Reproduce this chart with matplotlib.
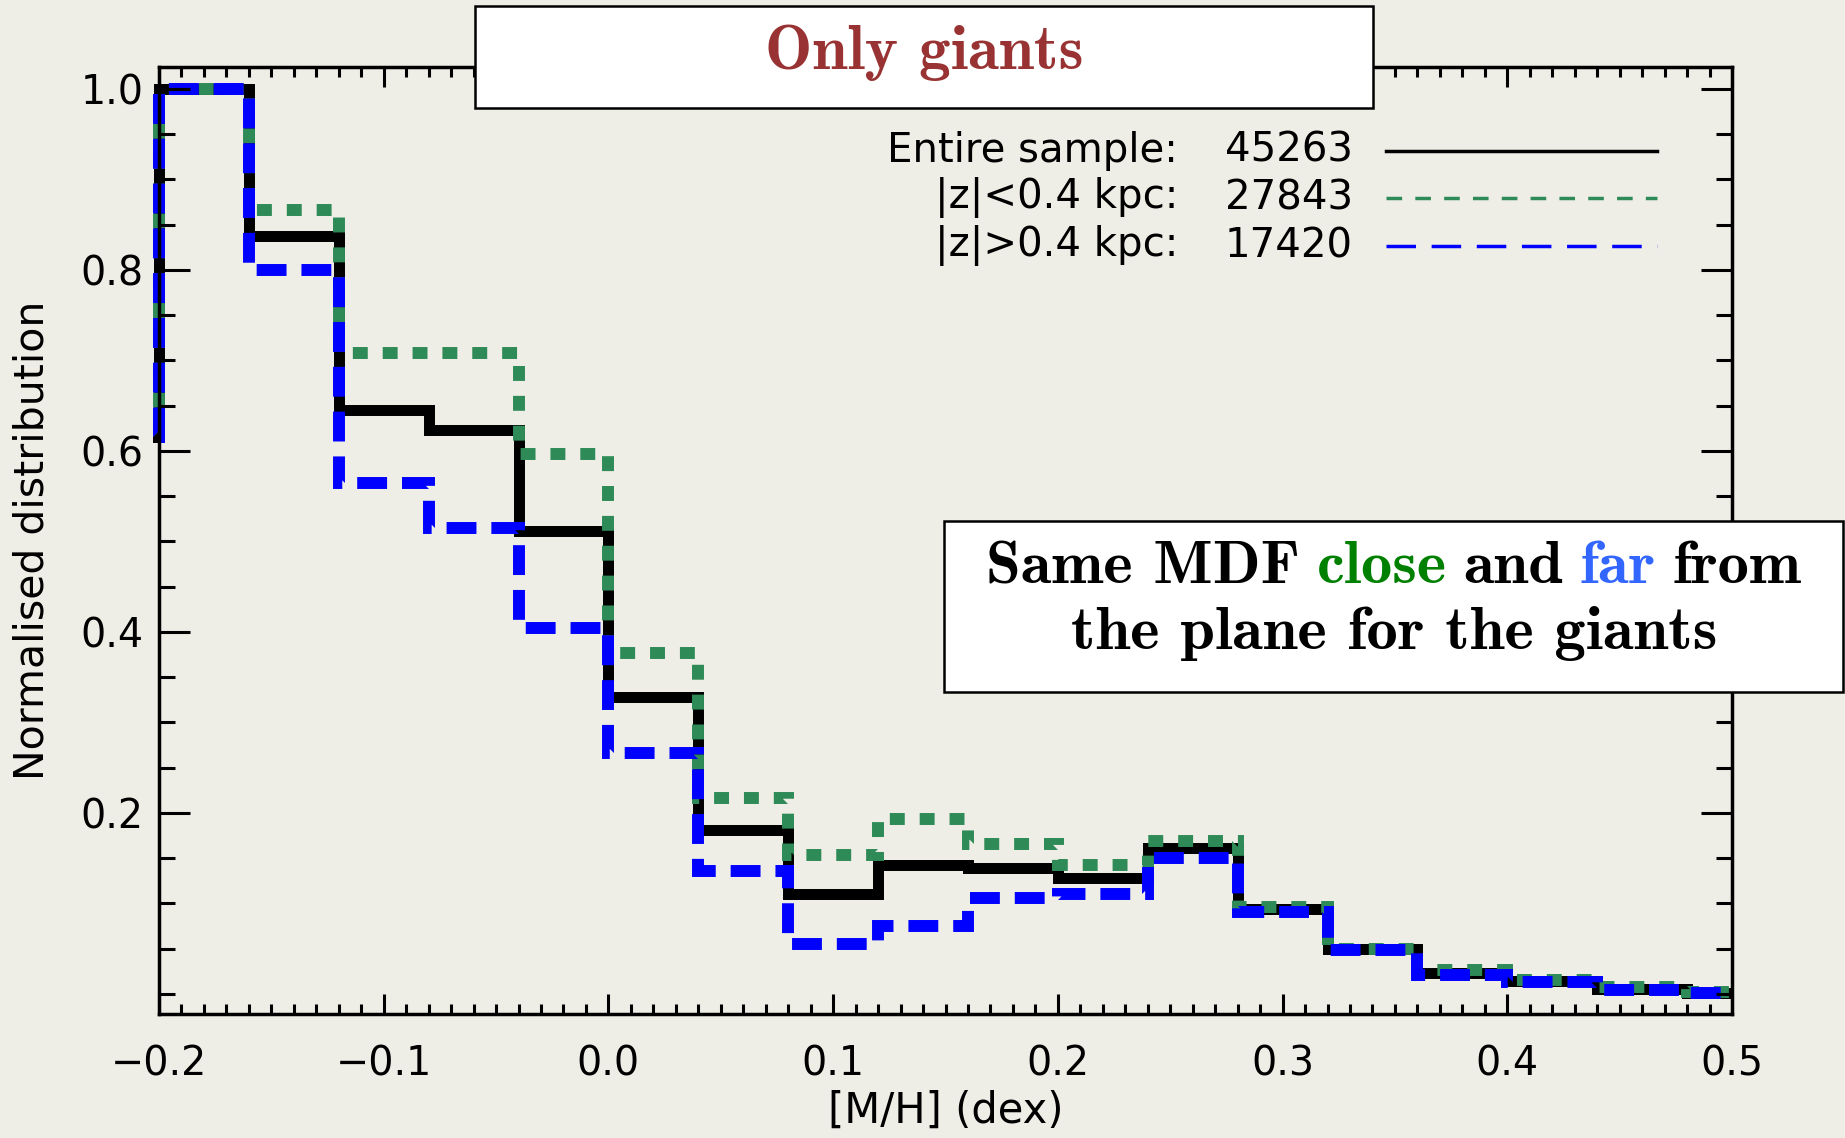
import numpy as np
import matplotlib
matplotlib.use("Agg")
import matplotlib.pyplot as plt
from matplotlib.lines import Line2D
from matplotlib.patches import Rectangle
from matplotlib.ticker import FixedLocator, MultipleLocator
from matplotlib.offsetbox import TextArea, HPacker, AnnotationBbox

# bin edges in [M/H] (first and last bins are partly outside the plot range)
edges = [-0.24, -0.20, -0.16, -0.12, -0.08, -0.04, 0.00, 0.04, 0.08, 0.12,
         0.16, 0.20, 0.24, 0.28, 0.32, 0.36, 0.40, 0.44, 0.48, 0.52]

# normalised histograms
entire = [0.615, 1.000, 0.838, 0.645, 0.623, 0.512, 0.328, 0.181, 0.110, 0.142,
          0.139, 0.128, 0.161, 0.094, 0.050, 0.023, 0.014, 0.0055, 0.0015]
near = [0.615, 1.000, 0.866, 0.708, 0.708, 0.597, 0.377, 0.217, 0.154, 0.193,
        0.166, 0.142, 0.169, 0.096, 0.050, 0.026, 0.016, 0.0077, 0.002]
far = [0.615, 1.000, 0.800, 0.565, 0.515, 0.404, 0.266, 0.136, 0.055, 0.075,
       0.106, 0.111, 0.150, 0.091, 0.049, 0.021, 0.0136, 0.0044, 0.001]

labels = ["Entire sample:", "|z|<0.4 kpc:", "|z|>0.4 kpc:"]
counts = ["45263", "27843", "17420"]

bg = "#efeee6"
green = "#2e8b57"
blue = "#0000ff"

W, H = 1845, 1138
fig = plt.figure(figsize=(W / 100, H / 100), dpi=100, facecolor=bg)


def fx(px):
    return px / W


def fy(py):
    # py measured from the top of the image
    return 1 - py / H


ax = fig.add_axes([fx(159), fy(1014), fx(1732) - fx(159), fy(67) - fy(1014)])
ax.set_facecolor(bg)

# let the thick steps overlap the left spine like IDL does
clip = Rectangle((-0.004, -0.05), 1.004, 1.1, transform=ax.transAxes)

h1 = ax.stairs(entire, edges, baseline=None, color="black", linewidth=7.9)
h2 = ax.stairs(near, edges, baseline=None, color=green, linewidth=8.6,
               linestyle=(0, (1.25, 1.25)))
h3 = ax.stairs(far, edges, baseline=None, color=blue, linewidth=8.6,
               linestyle=(0, (2.5, 1.25)))
for h in (h1, h2, h3):
    h.set_clip_path(clip)

ax.set_xlim(-0.2, 0.5)
ax.set_ylim(-0.0221, 1.0243)

ax.xaxis.set_major_locator(MultipleLocator(0.1))
ax.xaxis.set_minor_locator(MultipleLocator(0.01))
ax.yaxis.set_major_locator(FixedLocator([0.2, 0.4, 0.6, 0.8, 1.0]))
ax.yaxis.set_minor_locator(MultipleLocator(0.05))

ax.tick_params(axis="both", which="both", direction="in", top=True, right=True,
               width=2.2, labelsize=28.5)
ax.tick_params(axis="x", which="major", length=14.4, pad=22)
ax.tick_params(axis="x", which="minor", length=7.2)
ax.tick_params(axis="y", which="major", length=22, pad=11)
ax.tick_params(axis="y", which="minor", length=11.5)
for s in ax.spines.values():
    s.set_linewidth(2.5)

ax.set_xlabel("[M/H] (dex)", fontsize=30, va="top")
ax.xaxis.set_label_coords(0.5, -0.08)
ax.set_ylabel("Normalised distribution", fontsize=29.5)
ax.yaxis.set_label_coords(-0.0675, 0.5)

# legend drawn by hand, IDL style
rows = [151, 198, 246]
styles = [dict(color="black", linestyle="-"),
          dict(color=green, linestyle=(0, (4.5, 3.8))),
          dict(color=blue, linestyle=(0, (8.5, 4.5)))]
for lab, cnt, yy, st in zip(labels, counts, rows, styles):
    fig.text(fx(1178), fy(yy), lab, fontsize=29, ha="right", va="center")
    fig.text(fx(1353), fy(yy), cnt, fontsize=29, ha="right", va="center")
    fig.add_artist(Line2D([fx(1386), fx(1657)], [fy(yy), fy(yy)],
                          transform=fig.transFigure, linewidth=2.5, **st))

# title box
fig.add_artist(Rectangle((fx(475), fy(108)), fx(1373) - fx(475), fy(6) - fy(108),
                         transform=fig.transFigure, facecolor="white",
                         edgecolor="black", linewidth=1.8, zorder=5))
fig.text(fx(924), fy(69), "Only giants", family="cmb10", fontsize=45.5,
         color="#993333", ha="center", va="baseline", zorder=6)

# comment box
fig.add_artist(Rectangle((fx(944), fy(692)), fx(1843) - fx(944), fy(521) - fy(692),
                         transform=fig.transFigure, facecolor="white",
                         edgecolor="black", linewidth=1.8, zorder=5))
tp = dict(family="cmb10", fontsize=45)
parts = [("Same MDF", "black"), ("close", "#008000"), ("and", "black"),
         ("far", "#3366ff"), ("from", "black")]
line1 = HPacker(children=[TextArea(t, textprops=dict(color=c, **tp)) for t, c in parts],
                sep=12, pad=0, align="baseline")
ab = AnnotationBbox(line1, (fx(1394), fy(568)), xycoords="figure fraction",
                    frameon=False, box_alignment=(0.5, 0.5), zorder=6)
fig.add_artist(ab)
fig.text(fx(1394), fy(649), "the plane for the giants", color="black",
         ha="center", va="baseline", zorder=6, **tp)

fig.savefig("out.png", dpi=100, facecolor=bg)
